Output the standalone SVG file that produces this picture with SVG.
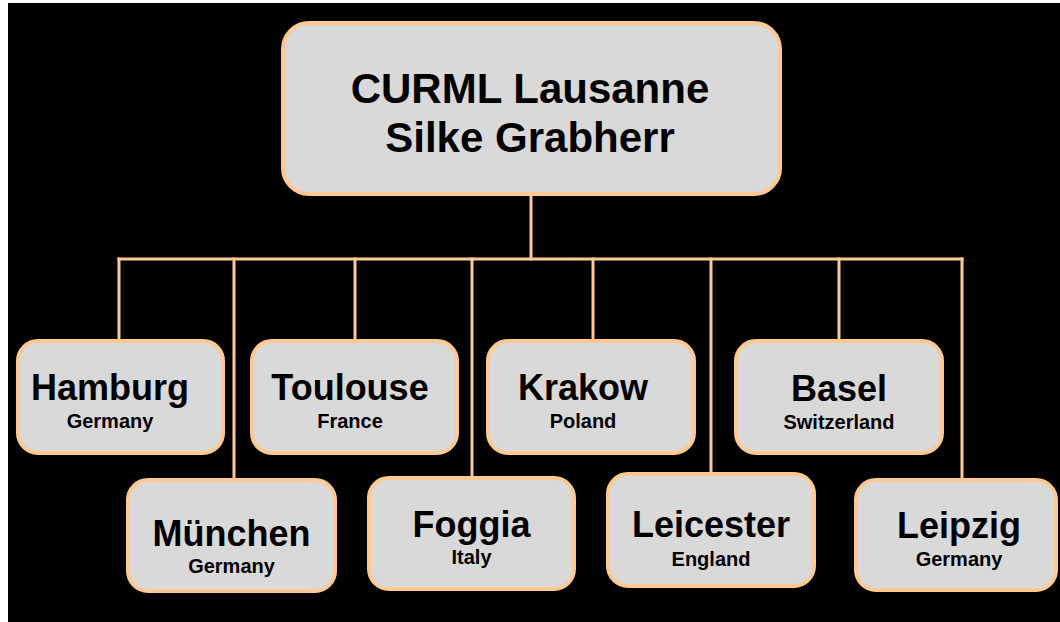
<svg xmlns="http://www.w3.org/2000/svg" width="1060" height="622" viewBox="0 0 1060 622">
  <style>
    .box { fill: #D9D9D9; stroke: #FFC994; stroke-width: 4; }
    .wire { stroke: #FFC994; stroke-width: 3; fill: none; stroke-linecap: square; }
    .big { font-family: "Liberation Sans", Arial, sans-serif; font-weight: bold; font-size: 36px; fill: #000; text-anchor: middle; }
    .small { font-family: "Liberation Sans", Arial, sans-serif; font-weight: bold; font-size: 20px; fill: #000; text-anchor: middle; }
    .title { font-family: "Liberation Sans", Arial, sans-serif; font-weight: bold; font-size: 42px; fill: #000; text-anchor: middle; }
  </style>

  <!-- page -->
  <rect x="0" y="0" width="1060" height="622" fill="#FFFFFF"/>
  <rect x="8" y="3" width="1052" height="619" fill="#000000"/>

  <!-- connectors -->
  <g id="connectors" class="wire">
    <line x1="531" y1="196" x2="531" y2="259"/>
    <line x1="119" y1="259" x2="962" y2="259"/>
    <line x1="119" y1="259" x2="119" y2="339"/>
    <line x1="234" y1="259" x2="234" y2="478"/>
    <line x1="355" y1="259" x2="355" y2="339"/>
    <line x1="472" y1="259" x2="472" y2="476"/>
    <line x1="593" y1="259" x2="593" y2="339"/>
    <line x1="711" y1="259" x2="711" y2="472"/>
    <line x1="839" y1="259" x2="839" y2="339"/>
    <line x1="962" y1="259" x2="962" y2="478"/>
  </g>

  <g id="curml">
    <rect class="box" x="283" y="23" width="497" height="171" rx="26"/>
    <text class="title" x="530" y="103">CURML Lausanne</text>
    <text class="title" x="530" y="152">Silke Grabherr</text>
  </g>

  <g id="hamburg">
    <rect class="box" x="18" y="341" width="205" height="112" rx="20"/>
    <text class="big" x="110" y="400">Hamburg</text>
    <text class="small" x="110" y="428">Germany</text>
  </g>

  <g id="toulouse">
    <rect class="box" x="252" y="341" width="205" height="112" rx="20"/>
    <text class="big" x="350" y="400">Toulouse</text>
    <text class="small" x="350" y="428">France</text>
  </g>

  <g id="krakow">
    <rect class="box" x="488" y="341" width="206" height="112" rx="20"/>
    <text class="big" x="583" y="400">Krakow</text>
    <text class="small" x="583" y="428">Poland</text>
  </g>

  <g id="basel">
    <rect class="box" x="736" y="341" width="206" height="112" rx="20"/>
    <text class="big" x="839" y="401">Basel</text>
    <text class="small" x="839" y="429">Switzerland</text>
  </g>

  <g id="muenchen">
    <rect class="box" x="128" y="480" width="207" height="111" rx="20"/>
    <text class="big" x="231.5" y="546">München</text>
    <text class="small" x="231.5" y="573">Germany</text>
  </g>

  <g id="foggia">
    <rect class="box" x="369" y="478" width="205" height="111" rx="20"/>
    <text class="big" x="471.5" y="537">Foggia</text>
    <text class="small" x="471.5" y="564">Italy</text>
  </g>

  <g id="leicester">
    <rect class="box" x="608" y="474" width="206" height="112" rx="20"/>
    <text class="big" x="711" y="537">Leicester</text>
    <text class="small" x="711" y="566">England</text>
  </g>

  <g id="leipzig">
    <rect class="box" x="856" y="480" width="200" height="110" rx="20"/>
    <text class="big" x="959" y="538">Leipzig</text>
    <text class="small" x="959" y="566">Germany</text>
  </g>
</svg>
